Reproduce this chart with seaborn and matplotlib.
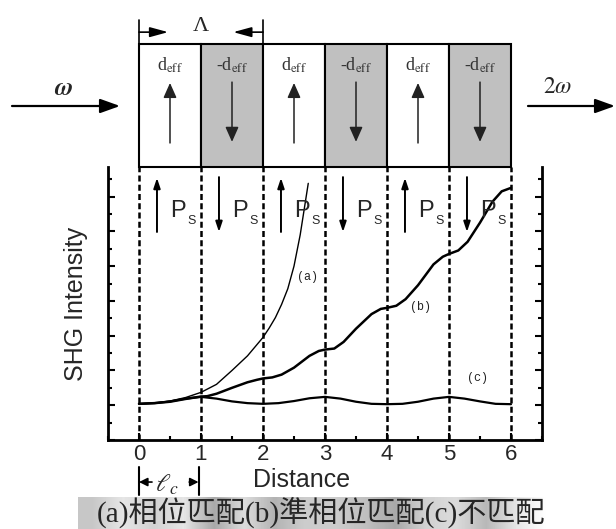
import numpy as np
import pandas as pd
import matplotlib
matplotlib.use("Agg")
import matplotlib.pyplot as plt
import seaborn as sns
from matplotlib.patches import Rectangle, FancyArrowPatch
from matplotlib.transforms import blended_transform_factory
from matplotlib.ticker import MultipleLocator

# Propagation distance in units of the coherence length l_c, and SHG intensity
dist_a = [0.0, 0.25, 0.5, 0.75, 1.0, 1.25, 1.5, 1.75, 2.0, 2.1, 2.2, 2.3, 2.4, 2.5, 2.6, 2.73]
shg_a = [1.04, 1.06, 1.12, 1.22, 1.37, 1.6, 2.0, 2.42, 2.95, 3.22, 3.52, 3.9, 4.35, 5.0, 5.9, 7.38]

dist_b = [0.0, 0.25, 0.5, 0.75, 1.0, 1.1, 1.25, 1.5, 1.75, 1.9, 2.0, 2.15, 2.3, 2.5, 2.75,
          2.9, 3.0, 3.15, 3.3, 3.5, 3.75, 3.9, 4.0, 4.15, 4.3, 4.5, 4.75, 4.9, 5.0,
          5.15, 5.3, 5.5, 5.7, 5.85, 6.0]
shg_b = [1.04, 1.06, 1.1, 1.18, 1.25, 1.26, 1.33, 1.5, 1.66, 1.73, 1.77, 1.8, 1.88, 2.08, 2.42,
         2.56, 2.6, 2.63, 2.82, 3.2, 3.62, 3.77, 3.8, 3.86, 4.05, 4.45, 5.05, 5.27, 5.35,
         5.45, 5.7, 6.25, 6.85, 7.15, 7.25]

dist_c = [0.0, 0.25, 0.5, 0.75, 1.0, 1.25, 1.5, 1.75, 2.0, 2.25, 2.5, 2.75, 3.0, 3.25, 3.5,
          3.75, 4.0, 4.25, 4.5, 4.75, 5.0, 5.25, 5.5, 5.75, 6.0]
shg_c = [1.04, 1.06, 1.11, 1.19, 1.24, 1.19, 1.11, 1.06, 1.04, 1.06, 1.12, 1.2, 1.24, 1.19, 1.1,
         1.04, 1.03, 1.04, 1.1, 1.19, 1.24, 1.19, 1.11, 1.04, 1.03]

# Periodically poled domains: boundaries and sign of d_eff in each domain
domain_edges = [0, 1, 2, 3, 4, 5, 6]
domain_signs = [1, -1, 1, -1, 1, -1]

x_ticks = [0, 1, 2, 3, 4, 5, 6]
y_major = [0, 1, 2, 3, 4, 5, 6, 7]

curve_tags = ["(a)", "(b)", "(c)"]
tag_x = [2.71, 4.54, 5.46]
tag_y = [4.68, 3.82, 1.78]

caption = "(a)相位匹配(b)準相位匹配(c)不匹配"
band_shades = [0.78, 0.9, 0.82, 0.9, 0.66, 0.86, 0.7, 0.8, 0.8, 0.75, 0.66, 0.82, 0.86,
               0.72, 0.9, 1.0]

sns.set_style("ticks")
plt.rcParams["font.family"] = ["Liberation Sans", "DejaVu Sans"]
plt.rcParams["mathtext.fontset"] = "stix"

W, H = 616, 529
fig = plt.figure(figsize=(W / 100, H / 100), dpi=100)
ax = fig.add_axes([108 / W, 1 - 440 / H, (542 - 108) / W, (440 - 167) / H])


def fig_xy(px, py):
    return (px / W, 1 - py / H)


# dashed domain boundaries
for e in domain_edges:
    ax.axvline(e, color="black", lw=1.8, ls=(0, (2.4, 1.3)), zorder=1)

sns.lineplot(x=dist_a, y=shg_a, ax=ax, color="black", lw=1.0, estimator=None, zorder=3)
sns.lineplot(x=dist_b, y=shg_b, ax=ax, color="black", lw=1.8, estimator=None, zorder=3)
sns.lineplot(x=dist_c, y=shg_c, ax=ax, color="black", lw=1.6, estimator=None, zorder=3)

for t, tx, ty in zip(curve_tags, tag_x, tag_y):
    ax.text(tx, ty, t, ha="center", va="center", fontsize=8.5,
            family="Liberation Mono", color="#222")

ax.set_xlim(-0.5, 6.5)
ax.set_ylim(0, 7.85)
ax.set_xticks(x_ticks)
ax.set_xticklabels([str(v) for v in x_ticks])
ax.set_yticks(y_major)
ax.set_yticklabels([])
ax.xaxis.set_minor_locator(MultipleLocator(0.5))
ax.yaxis.set_minor_locator(MultipleLocator(0.5))
ax.tick_params(which="both", direction="in", left=True, right=True, top=False,
               bottom=True, width=1.5, color="black")
ax.tick_params(which="major", length=5, labelsize=16, pad=3)
ax.tick_params(which="minor", length=3)
ax.spines["top"].set_visible(False)
for s in ("left", "right", "bottom"):
    ax.spines[s].set_linewidth(2)
    ax.spines[s].set_color("black")

ax.set_xlabel("Distance", fontsize=18)
ax.xaxis.set_label_coords((302 - 108) / 434, (440 - 468) / 273)
ax.set_ylabel("SHG Intensity", fontsize=18)
ax.yaxis.set_label_coords((88 - 108) / 434, 0.5)

bt = blended_transform_factory(ax.transData, ax.transAxes)
box_top = 1.4505

# domain boxes with d_eff sign and polarization arrows
for i, s in enumerate(domain_signs):
    x0 = domain_edges[i]
    ax.add_patch(Rectangle((x0, 1.0), 1, box_top - 1.0, transform=bt, clip_on=False,
                           facecolor="white" if s > 0 else "#c0c0c0",
                           edgecolor="black", lw=1.5, zorder=2))
    lab = r"d$_{\rm eff}$" if s > 0 else r"-d$_{\rm eff}$"
    ax.text(x0 + 0.5, 1.3736, lab, transform=bt, ha="center", va="center",
            fontsize=13, family="Liberation Serif", color="#333", clip_on=False, zorder=4)
    tail, tip = (1.088, 1.308) if s > 0 else (1.311, 1.092)
    ax.annotate("", xy=(x0 + 0.5, tip), xytext=(x0 + 0.5, tail), xycoords=bt,
                textcoords=bt, annotation_clip=False, zorder=4,
                arrowprops=dict(arrowstyle="-|>,head_length=0.9,head_width=0.4",
                                mutation_scale=10, lw=1.1, color="#222",
                                shrinkA=0, shrinkB=0))
    # spontaneous polarization inside the plot
    tail, tip = (0.762, 0.96) if s > 0 else (0.963, 0.762)
    ax.annotate("", xy=(x0 + 0.29, tip), xytext=(x0 + 0.29, tail), xycoords=bt,
                textcoords=bt, annotation_clip=False, zorder=4,
                arrowprops=dict(arrowstyle="-|>,head_length=0.6,head_width=0.2",
                                mutation_scale=10, lw=1.4, color="black",
                                shrinkA=0, shrinkB=0))
    ax.text(x0 + 0.5, 0.817, "P", transform=bt, ha="left", va="baseline", fontsize=17)
    ax.text(x0 + 0.78, 0.791, "S", transform=bt, ha="left", va="baseline", fontsize=9)

# grating period bracket
for e in (0, 2):
    ax.plot([e, e], [box_top, 1.538], transform=bt, clip_on=False, color="black", lw=1.2)
for tail, tip in ((0, 0.47), (2, 1.52)):
    ax.annotate("", xy=(tip, 1.494), xytext=(tail, 1.494), xycoords=bt, textcoords=bt,
                annotation_clip=False,
                arrowprops=dict(arrowstyle="-|>,head_length=1.1,head_width=0.3",
                                mutation_scale=10, lw=1.2, color="black",
                                shrinkA=0, shrinkB=0))
ax.text(1, 1.515, "Λ", transform=bt, ha="center", va="center", fontsize=16,
        family="Liberation Serif", clip_on=False)

# coherence length bracket
for e in (0, 0.96):
    ax.plot([e, e], [-0.099, -0.201], transform=bt, clip_on=False, color="black", lw=1.5)
for tail, tip in ((0.21, 0.0), (0.81, 0.96)):
    ax.annotate("", xy=(tip, -0.154), xytext=(tail, -0.154), xycoords=bt, textcoords=bt,
                annotation_clip=False,
                arrowprops=dict(arrowstyle="-|>,head_length=0.5,head_width=0.25",
                                mutation_scale=10, lw=1.2, color="black",
                                shrinkA=0, shrinkB=0))
ax.text(0.45, -0.165, r"$\ell_c$", transform=bt, ha="center", va="center", fontsize=18,
        clip_on=False)

# input and output beams
for a, b in (((12, 106), (120, 106)), ((528, 106), (615, 106))):
    fig.add_artist(FancyArrowPatch(fig_xy(*a), fig_xy(*b), transform=fig.transFigure,
                                   arrowstyle="-|>,head_length=1.2,head_width=0.43",
                                   mutation_scale=10, lw=1.6, color="black",
                                   shrinkA=0, shrinkB=0))
fig.text(*fig_xy(63, 88), r"$\boldsymbol{\omega}$", ha="center", va="center", fontsize=18)
fig.text(*fig_xy(558, 87), r"$2\omega$", ha="center", va="center", fontsize=17)

# caption band
bax = fig.add_axes([78 / W, 1 - 529 / H, (562 - 78) / W, (529 - 497) / H])
bax.imshow(np.array(band_shades)[None, :], cmap="gray", vmin=0, vmax=1, aspect="auto",
           interpolation="bilinear")
bax.axis("off")
fig.text(*fig_xy(321, 512), caption, ha="center", va="center", fontsize=21,
         family=["Liberation Serif", "Noto Sans CJK TC"])

fig.savefig("out.png", dpi=100)
